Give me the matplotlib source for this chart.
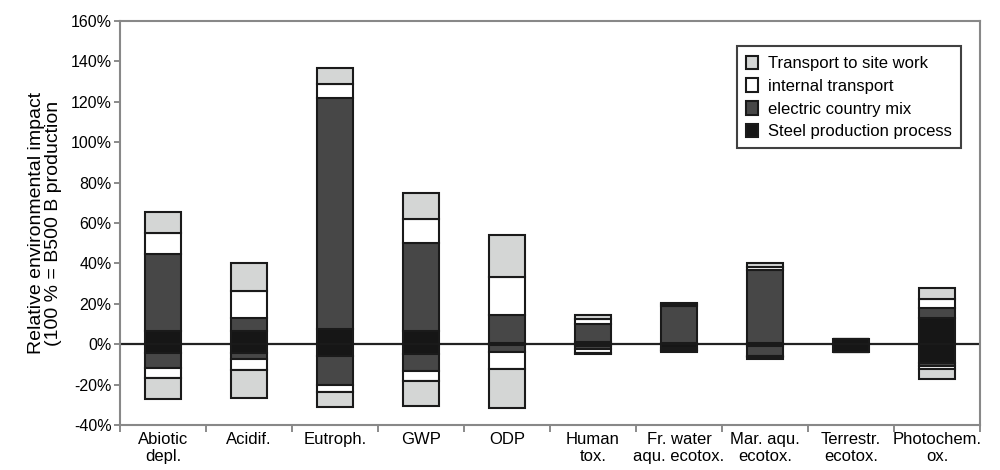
import numpy as np
import matplotlib
matplotlib.use('Agg')
import matplotlib.pyplot as plt
from matplotlib.patches import Patch

plt.rcParams['font.family'] = ['Liberation Sans', 'DejaVu Sans']

categories = ['Abiotic\ndepl.', 'Acidif.', 'Eutroph.', 'GWP', 'ODP', 'Human\ntox.',
              'Fr. water\naqu. ecotox.', 'Mar. aqu.\necotox.', 'Terrestr.\necotox.',
              'Photochem.\nox.']

series_names = ['Transport to site work', 'internal transport',
                'electric country mix', 'Steel production process']

# positive contributions (%)
steel_pos = [6.3, 6.3, 7.4, 6.6, 0.8, 1.1, 0.6, 0.8, 2.8, 12.9]
elec_pos = [38.3, 6.6, 114.4, 43.4, 13.9, 8.9, 18.4, 35.8, 0.0, 4.9]
internal_pos = [10.7, 13.2, 7.2, 11.9, 18.8, 2.4, 0.7, 1.6, 0.0, 4.8]
transport_pos = [10.4, 14.3, 7.5, 13.2, 20.5, 2.1, 0.8, 1.9, 0.0, 5.0]

# negative contributions (%)
steel_neg = [-4.1, -4.5, -5.8, -4.6, -0.5, -0.8, -2.0, -0.8, -3.8, -9.1]
elec_neg = [-7.9, -2.6, -14.5, -8.6, -3.3, -1.5, -1.0, -4.8, 0.0, -1.6]
internal_neg = [-4.5, -5.8, -3.3, -5.0, -8.6, -1.8, -0.3, -0.8, 0.0, -1.7]
transport_neg = [-10.7, -13.5, -7.4, -12.3, -19.4, -0.5, -0.4, -1.0, 0.0, -4.6]

colors = {'steel': '#161616', 'elec': '#474747', 'internal': '#ffffff', 'transport': '#d4d6d5'}
EDGE = '#1a1a1a'
BAR_W = 0.41

fig = plt.figure(figsize=(10, 4.7), dpi=100)
ax = fig.add_axes([0.12, 0.0957, 0.86, 0.8596])

x = np.arange(len(categories))


def draw_stack(parts, keys):
    base = np.zeros(len(categories))
    for vals, key in zip(parts, keys):
        vals = np.array(vals)
        ax.bar(x, vals, BAR_W, bottom=base, color=colors[key],
               edgecolor=EDGE, linewidth=1.5, zorder=3)
        base = base + vals


keys = ['steel', 'elec', 'internal', 'transport']
draw_stack([steel_pos, elec_pos, internal_pos, transport_pos], keys)
draw_stack([steel_neg, elec_neg, internal_neg, transport_neg], keys)

ax.axhline(0, color='#222222', lw=1.6, zorder=2)

ax.set_xlim(-0.5, len(categories) - 0.5)
ax.set_ylim(-40, 160)
ax.set_yticks(np.arange(-40, 161, 20))
ax.set_yticklabels([f'{v}%' for v in range(-40, 161, 20)], fontsize=11.5)

# ticks between categories, labels centred under bars
ax.set_xticks(np.arange(-0.5, len(categories), 1.0))
ax.set_xticklabels([])
ax.set_xticks(x, minor=True)
ax.set_xticklabels(categories, minor=True, fontsize=12, linespacing=1.15,
                   family=['Liberation Sans Narrow', 'Liberation Sans'])
ax.tick_params(axis='x', which='minor', length=0, pad=5)
ax.tick_params(axis='x', which='major', length=5, color='#777777', width=1.2)
ax.tick_params(axis='y', length=4, color='#777777', width=1.2, pad=2)

for s in ax.spines.values():
    s.set_color('#888888')
    s.set_linewidth(1.5)

ax.set_ylabel('Relative environmental impact\n(100 % = B500 B production',
              fontsize=14, labelpad=6, linespacing=1.05)

handles = [Patch(facecolor=colors[k], edgecolor=EDGE, linewidth=1.5)
           for k in ['transport', 'internal', 'elec', 'steel']]
leg = ax.legend(handles, series_names, loc='upper right',
                bbox_to_anchor=(0.978, 0.937), fontsize=12, frameon=True,
                fancybox=False, handlelength=0.7, handleheight=0.9,
                handletextpad=0.6, labelspacing=0.42, borderpad=0.55,
                borderaxespad=0)
leg.get_frame().set_edgecolor('#111111')
leg.get_frame().set_linewidth(1.5)

fig.savefig('out.png', dpi=100)
